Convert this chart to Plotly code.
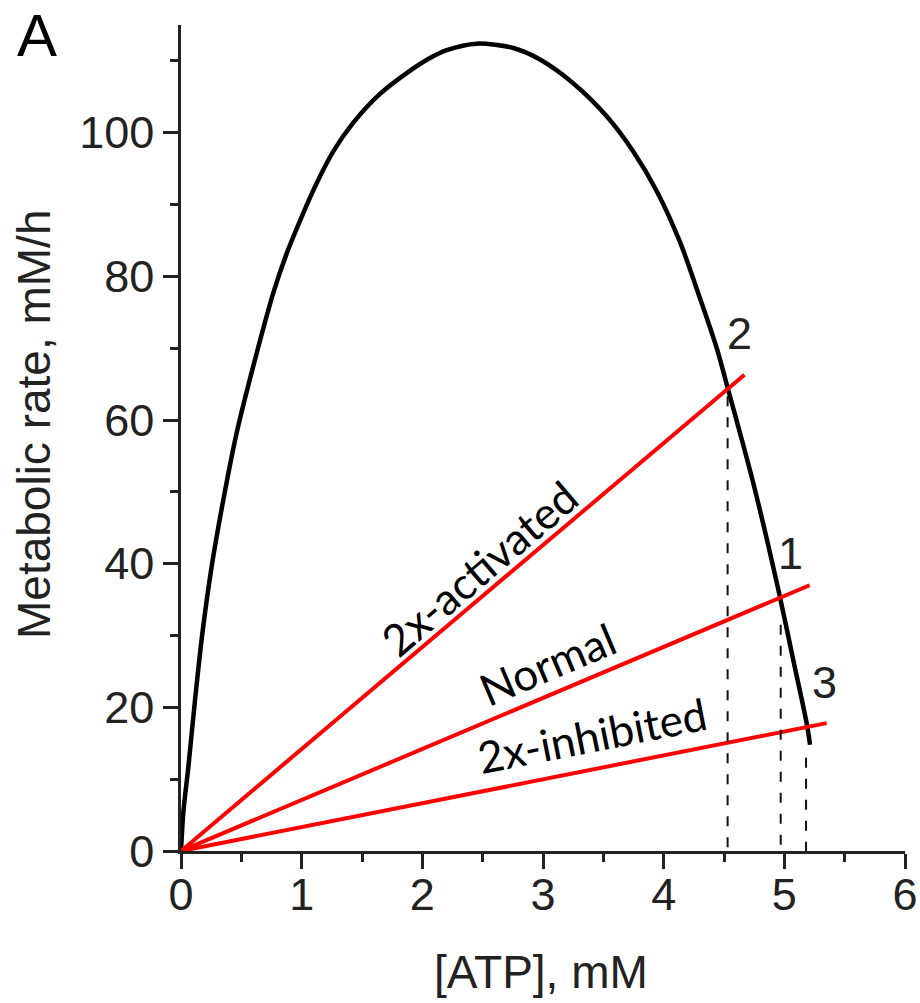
import plotly.graph_objects as go

# ---- data ----
curve_x = [0, 0.02, 0.061, 0.116, 0.177, 0.254, 0.351, 0.461, 0.599, 0.765,
           0.876, 1.0, 1.125, 1.262, 1.428, 1.649, 1.870, 2.063, 2.202, 2.45,
           2.754, 2.975, 3.25, 3.528, 3.748, 3.942, 4.135, 4.30, 4.44, 4.535,
           4.743, 4.95, 5.074, 5.185, 5.213]
curve_y = [0, 5.5, 11.7, 21.0, 30.3, 39.6, 48.9, 58.2, 67.5, 77.7,
           83.2, 88.3, 93.0, 97.4, 101.4, 105.4, 108.3, 110.4, 111.5, 112.4,
           111.8, 110.2, 106.9, 102.3, 97.4, 91.9, 84.8, 77.0, 70.0, 64.2,
           51.2, 36.4, 26.6, 17.8, 14.8]

line_names = ["2x-activated", "Normal", "2x-inhibited"]
line_end_x = [4.67, 5.21, 5.35]
line_end_y = [66.3, 37.0, 17.8]

drop_x = [4.53, 4.97, 5.18]
drop_top_y = [63.3, 31.5, 13.0]

point_labels = ["2", "1", "3"]
point_label_x = [4.632, 5.055, 5.33]
point_label_y = [72.0, 41.4, 23.4]

text_label_x = [2.47, 3.03, 3.41]
text_label_y = [39.4, 26.1, 16.2]
text_label_angle = [-40.5, -23, -11.2]

x_ticks = [0, 1, 2, 3, 4, 5, 6]
y_ticks = [0, 20, 40, 60, 80, 100]

AX = "#222222"
ARIAL = "Liberation Sans, Arial, sans-serif"

fig = go.Figure()

fig.add_trace(go.Scatter(x=curve_x, y=curve_y, mode="lines",
                         line=dict(color="black", width=4.5, shape="spline", smoothing=0.8),
                         hoverinfo="skip", showlegend=False))

for ex, ey in zip(line_end_x, line_end_y):
    fig.add_trace(go.Scatter(x=[0, ex], y=[0, ey], mode="lines",
                             line=dict(color="#ff0000", width=4),
                             hoverinfo="skip", showlegend=False))

for dx, dy in zip(drop_x, drop_top_y):
    fig.add_trace(go.Scatter(x=[dx, dx], y=[dy, 0], mode="lines",
                             line=dict(color="#111111", width=2, dash="10px,11px"),
                             hoverinfo="skip", showlegend=False))

for t, x, y in zip(point_labels, point_label_x, point_label_y):
    fig.add_annotation(x=x, y=y, text=t, showarrow=False,
                       font=dict(family=ARIAL, size=45, color=AX),
                       xanchor="center", yanchor="middle")

for t, x, y, a in zip(line_names, text_label_x, text_label_y, text_label_angle):
    fig.add_annotation(x=x, y=y, text=t, showarrow=False, textangle=a,
                       font=dict(family="Lato, Noto Sans, sans-serif", size=44, color="black"),
                       xanchor="center", yanchor="middle")

# panel letter
fig.add_annotation(xref="paper", yref="paper", x=(37 - 181) / 724, y=(851 - 0) / 826,
                   text="A", showarrow=False, xanchor="center", yanchor="top",
                   font=dict(family=ARIAL, size=60, color="black"))
# axis titles
fig.add_annotation(xref="paper", yref="paper", x=(541 - 181) / 724, y=(851 - 972) / 826,
                   text="[ATP], mM", showarrow=False, xanchor="center", yanchor="middle",
                   font=dict(family=ARIAL, size=46, color=AX))
fig.add_annotation(xref="paper", yref="paper", x=(34 - 181) / 724, y=(851 - 425) / 826,
                   text="Metabolic rate, mM/h", showarrow=False, textangle=-90,
                   xanchor="center", yanchor="middle",
                   font=dict(family=ARIAL, size=46, color=AX))

fig.update_xaxes(range=[0, 6], tickvals=x_ticks, ticktext=[str(v) for v in x_ticks],
                 automargin=False, ticklabelstandoff=-13,
                 showline=True, linecolor=AX, linewidth=2.5, ticks="outside",
                 ticklen=15, tickwidth=2.5, tickcolor=AX, showgrid=False, zeroline=False,
                 tickfont=dict(family=ARIAL, size=45, color=AX),
                 minor=dict(dtick=0.5, tick0=0, ticks="outside", ticklen=8,
                            tickwidth=2.5, tickcolor=AX, showgrid=False))
fig.update_yaxes(range=[0, 115], tickvals=y_ticks, ticktext=[str(v) for v in y_ticks],
                 automargin=False,
                 showline=True, linecolor=AX, linewidth=2.5, ticks="outside",
                 ticklen=15, tickwidth=2.5, tickcolor=AX, showgrid=False, zeroline=False,
                 tickfont=dict(family=ARIAL, size=45, color=AX),
                 minor=dict(dtick=10, tick0=0, ticks="outside", ticklen=8,
                            tickwidth=2.5, tickcolor=AX, showgrid=False))

fig.update_layout(width=920, height=1003,
                  margin=dict(l=181, r=15, t=25, b=152, pad=0),
                  paper_bgcolor="white", plot_bgcolor="white",
                  showlegend=False)

fig.write_html("out.html")
